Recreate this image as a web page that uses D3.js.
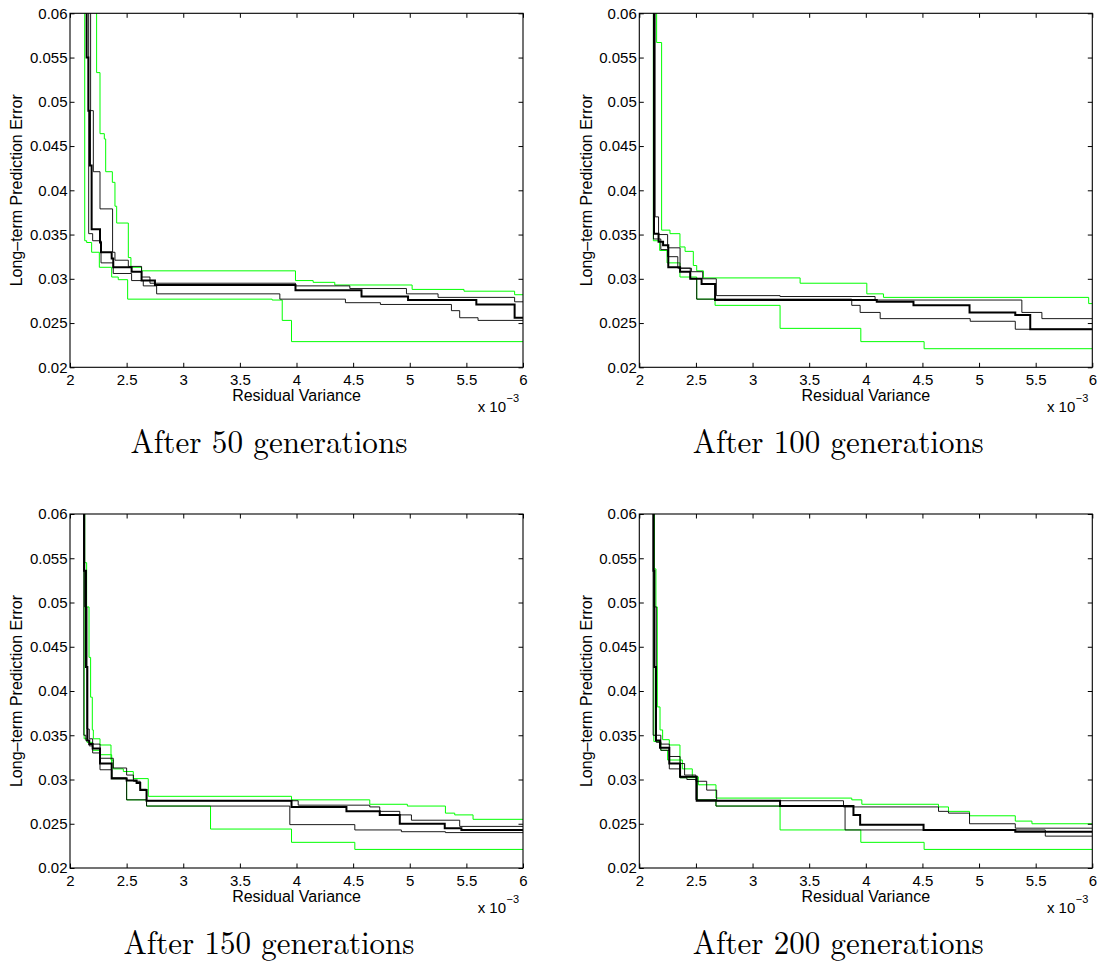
<!DOCTYPE html>
<html>
<head>
<meta charset="utf-8">
<script src="https://cdn.jsdelivr.net/npm/d3@7"></script>
<style>
  html, body { margin: 0; padding: 0; background: #fff; }
  svg { display: block; }
</style>
</head>
<body>
<svg id="chart" width="1101" height="965"></svg>
<script>
// x values are in units of 10^-3 (Residual Variance), y = Long-term Prediction Error
const xTicks = [2, 2.5, 3, 3.5, 4, 4.5, 5, 5.5, 6];
const yTicks = [0.02, 0.025, 0.03, 0.035, 0.04, 0.045, 0.05, 0.055, 0.06];
const panelTitles = ["After 50 generations", "After 100 generations", "After 150 generations", "After 200 generations"];

// ---- After 50 generations ----
const gen50GreenUpper = [[2.235,0.065],[2.235,0.0533],[2.265,0.0464],[2.303,0.0458],[2.315,0.0421],[2.374,0.0409],[2.397,0.0382],[2.412,0.0363],[2.515,0.0324],[2.538,0.0313],[2.632,0.0309],[3.991,0.0298],[4.147,0.0296],[4.338,0.0293],[5.021,0.0288],[5.479,0.0286],[5.926,0.0282],[6,0.0282]];
const gen50GreenLower = [[2.13,0.065],[2.13,0.0343],[2.147,0.0341],[2.191,0.0330],[2.259,0.0313],[2.368,0.0302],[2.426,0.0299],[2.509,0.0277],[3.785,0.0276],[3.874,0.0253],[3.956,0.0229],[6,0.0229]];
const gen50ThinUpper = [[2.182,0.065],[2.182,0.0490],[2.206,0.0421],[2.265,0.0379],[2.376,0.0330],[2.397,0.0321],[2.515,0.0314],[2.632,0.0302],[2.706,0.0295],[3.991,0.0292],[4.471,0.0289],[4.971,0.0283],[5.25,0.0279],[5.926,0.0274],[6,0.0274]];
const gen50ThinLower = [[2.165,0.065],[2.165,0.0351],[2.20,0.0343],[2.274,0.0318],[2.382,0.0306],[2.544,0.0298],[2.647,0.0292],[2.765,0.0283],[3.853,0.0277],[4.432,0.0273],[4.741,0.0271],[5.368,0.0264],[5.441,0.0256],[5.603,0.0253],[6,0.0253]];
const gen50Median = [[2.147,0.065],[2.147,0.0550],[2.162,0.0490],[2.176,0.0428],[2.191,0.0356],[2.265,0.0341],[2.274,0.0330],[2.368,0.0323],[2.382,0.0313],[2.544,0.0308],[2.632,0.0298],[2.75,0.0293],[3.991,0.0287],[4.574,0.0280],[4.985,0.0276],[5.588,0.0271],[5.926,0.0256],[6,0.0256]];

// ---- After 100 generations ----
const gen100GreenUpper = [[2.153,0.065],[2.153,0.0567],[2.197,0.0355],[2.271,0.0351],[2.359,0.0336],[2.404,0.0331],[2.477,0.0315],[2.507,0.0309],[2.566,0.0301],[3.42,0.0295],[4.009,0.0283],[4.156,0.0279],[5.968,0.0272],[6,0.0272]];
const gen100GreenLower = [[2.124,0.065],[2.124,0.0343],[2.18,0.0332],[2.245,0.0318],[2.359,0.0302],[2.507,0.0277],[2.669,0.0270],[3.243,0.0244],[3.956,0.0229],[4.515,0.0221],[6,0.0221]];
const gen100ThinUpper = [[2.14,0.065],[2.14,0.0370],[2.17,0.0350],[2.25,0.0335],[2.36,0.0312],[2.46,0.0308],[2.56,0.0300],[2.68,0.0281],[3.243,0.0280],[4.082,0.0276],[5.378,0.0262],[5.555,0.0255],[6,0.0255]];
const gen100ThinLower = [[2.125,0.065],[2.125,0.0345],[2.19,0.0333],[2.25,0.0325],[2.34,0.0312],[2.45,0.0300],[2.507,0.0277],[3.876,0.0270],[3.95,0.0262],[4.127,0.0255],[4.922,0.0252],[5.32,0.0243],[6,0.0243]];
const gen100Median = [[2.13,0.065],[2.13,0.0351],[2.17,0.0342],[2.21,0.0338],[2.256,0.0313],[2.36,0.0308],[2.45,0.0300],[2.55,0.0294],[2.669,0.0276],[4.097,0.0274],[4.421,0.0270],[4.916,0.0262],[5.32,0.0259],[5.452,0.0243],[6,0.0243]];

// ---- After 150 generations ----
const gen150GreenUpper = [[2.13,0.065],[2.13,0.0545],[2.147,0.0495],[2.168,0.0438],[2.182,0.0393],[2.197,0.0356],[2.206,0.0346],[2.265,0.0339],[2.362,0.0322],[2.382,0.0312],[2.471,0.0309],[2.559,0.0301],[2.691,0.0281],[3.956,0.0277],[4.647,0.0272],[4.979,0.0270],[5.315,0.0262],[5.397,0.0260],[5.559,0.0255],[6,0.0255]];
const gen150GreenLower = [[2.125,0.065],[2.125,0.0346],[2.15,0.0342],[2.2,0.0333],[2.265,0.0328],[2.368,0.0301],[2.5,0.0277],[2.676,0.0270],[3.241,0.0244],[3.956,0.0229],[4.515,0.0221],[6,0.0221]];
const gen150ThinUpper = [[2.13,0.065],[2.13,0.0495],[2.15,0.0357],[2.17,0.0346],[2.20,0.0340],[2.265,0.0324],[2.382,0.0313],[2.5,0.0305],[2.56,0.0298],[2.62,0.0289],[2.676,0.0276],[4.015,0.0271],[4.647,0.0269],[4.735,0.0264],[4.912,0.0260],[5.015,0.0254],[5.441,0.0247],[6,0.0247]];
const gen150ThinLower = [[2.122,0.065],[2.122,0.0350],[2.14,0.0344],[2.17,0.0338],[2.2,0.0330],[2.265,0.0311],[2.368,0.0302],[2.5,0.0277],[2.676,0.0270],[3.941,0.0249],[4.515,0.0243],[4.926,0.0241],[5.315,0.0240],[6,0.0240]];
const gen150Median = [[2.124,0.065],[2.124,0.0536],[2.141,0.0427],[2.153,0.0344],[2.17,0.0340],[2.20,0.0335],[2.265,0.0318],[2.368,0.0301],[2.5,0.0299],[2.588,0.0296],[2.62,0.0288],[2.676,0.0276],[3.956,0.0269],[4.441,0.0264],[4.735,0.0260],[4.912,0.0250],[5.309,0.0245],[5.456,0.0243],[6,0.0243]];

// ---- After 200 generations ----
const gen200GreenUpper = [[2.133,0.065],[2.133,0.0538],[2.147,0.0495],[2.159,0.0382],[2.183,0.0356],[2.206,0.0345],[2.265,0.0339],[2.359,0.0322],[2.38,0.0312],[2.468,0.0303],[2.521,0.0294],[2.677,0.0279],[3.876,0.0277],[3.965,0.0272],[4.642,0.0269],[4.73,0.0264],[4.916,0.0259],[5.32,0.0253],[5.467,0.0250],[6,0.0250]];
const gen200GreenLower = [[2.128,0.065],[2.128,0.0343],[2.19,0.0333],[2.25,0.0322],[2.36,0.0302],[2.51,0.0277],[2.677,0.0270],[3.243,0.0243],[3.956,0.0229],[4.515,0.0221],[6,0.0221]];
const gen200ThinUpper = [[2.13,0.065],[2.13,0.0495],[2.15,0.0350],[2.19,0.0340],[2.265,0.0326],[2.36,0.0318],[2.40,0.0305],[2.50,0.0298],[2.595,0.0288],[2.683,0.0276],[3.803,0.0269],[4.642,0.0264],[4.73,0.0262],[4.916,0.0250],[5.32,0.0245],[6,0.0245]];
const gen200ThinLower = [[2.122,0.065],[2.122,0.0350],[2.15,0.0342],[2.19,0.0333],[2.265,0.0312],[2.36,0.0302],[2.42,0.0300],[2.50,0.0277],[2.677,0.0270],[3.817,0.0243],[5.585,0.0236],[6,0.0236]];
const gen200Median = [[2.125,0.065],[2.125,0.0536],[2.133,0.0427],[2.147,0.0344],[2.183,0.0336],[2.265,0.0318],[2.36,0.0303],[2.507,0.0276],[3.243,0.0270],[3.891,0.0260],[3.95,0.0249],[4.51,0.0243],[5.32,0.0241],[6,0.0241]];

const panelSeries = [
  [gen50GreenUpper, gen50GreenLower, gen50ThinUpper, gen50ThinLower, gen50Median],
  [gen100GreenUpper, gen100GreenLower, gen100ThinUpper, gen100ThinLower, gen100Median],
  [gen150GreenUpper, gen150GreenLower, gen150ThinUpper, gen150ThinLower, gen150Median],
  [gen200GreenUpper, gen200GreenLower, gen200ThinUpper, gen200ThinLower, gen200Median]
];
const seriesKinds = ["green", "green", "thin", "thin", "thick"];

// ---- layout ----
const colLeft = [70, 639.3];
const rowTop = [13.3, 514];
const W = 453, H = 354;
const styles = {
  green: { stroke: "#00ff00", width: 1 },
  thin:  { stroke: "#000000", width: 0.9 },
  thick: { stroke: "#000000", width: 2 }
};
const sans = "'Liberation Sans', Arial, Helvetica, sans-serif";
const serif = "'Latin Modern Roman', 'CMU Serif', 'Liberation Serif', 'DejaVu Serif', serif";

const svg = d3.select("#chart");
svg.append("rect").attr("width", 1101).attr("height", 965).attr("fill", "#fff");

const x = d3.scaleLinear().domain([2, 6]).range([0, W]);
const y = d3.scaleLinear().domain([0.02, 0.06]).range([H, 0]);
const line = d3.line().x(d => x(d[0])).y(d => y(d[1])).curve(d3.curveStepAfter);

panelSeries.forEach((series, i) => {
  const col = i % 2, row = Math.floor(i / 2);
  const g = svg.append("g").attr("transform", `translate(${colLeft[col]},${rowTop[row]})`);
  const clipId = "clip" + i;
  g.append("clipPath").attr("id", clipId).append("rect").attr("width", W).attr("height", H);

  const lines = g.append("g").attr("clip-path", `url(#${clipId})`);
  // draw greens first, then thin black, then thick black
  const order = ["green", "thin", "thick"];
  order.forEach(kind => {
    series.forEach((s, j) => {
      if (seriesKinds[j] !== kind) return;
      lines.append("path")
        .attr("d", line(s))
        .attr("fill", "none")
        .attr("stroke", styles[kind].stroke)
        .attr("stroke-width", styles[kind].width)
        .attr("stroke-linejoin", "miter");
    });
  });

  // axes with inward ticks
  const tk = 4.5;
  const gb = g.append("g").attr("transform", `translate(0,${H})`)
    .call(d3.axisBottom(x).tickValues(xTicks).tickFormat(d => String(d)).tickSizeInner(-tk).tickSizeOuter(0).tickPadding(7));
  const gl = g.append("g")
    .call(d3.axisLeft(y).tickValues(yTicks).tickFormat(d => String(d)).tickSizeInner(-tk).tickSizeOuter(0).tickPadding(2.5));
  const gt = g.append("g")
    .call(d3.axisTop(x).tickValues(xTicks).tickFormat("").tickSizeInner(-tk).tickSizeOuter(0));
  const gr = g.append("g").attr("transform", `translate(${W},0)`)
    .call(d3.axisRight(y).tickValues(yTicks).tickFormat("").tickSizeInner(-tk).tickSizeOuter(0));
  [gb, gl, gt, gr].forEach(a => {
    a.select(".domain").remove();
    a.selectAll("text").attr("font-family", sans).attr("font-size", 15).attr("fill", "#000");
    a.selectAll("line").attr("stroke", "#000");
  });

  // box
  g.append("rect").attr("width", W).attr("height", H)
    .attr("fill", "none").attr("stroke", "#000").attr("stroke-width", 1.1);

  // axis labels
  g.append("text")
    .attr("x", W / 2).attr("y", H + 34)
    .attr("text-anchor", "middle")
    .attr("font-family", sans).attr("font-size", 16)
    .text("Residual Variance");
  g.append("text")
    .attr("transform", `translate(${-47.6},${H / 2}) rotate(-90)`)
    .attr("text-anchor", "middle")
    .attr("font-family", sans).attr("font-size", 16)
    .text("Long\u2013term Prediction Error");

  // x 10^-3 multiplier
  g.append("text")
    .attr("x", W - 17).attr("y", H + 45)
    .attr("text-anchor", "end")
    .attr("font-family", sans).attr("font-size", 15)
    .text("x 10");
  g.append("text")
    .attr("x", W - 16.5).attr("y", H + 34.5)
    .attr("text-anchor", "start")
    .attr("font-family", sans).attr("font-size", 11)
    .text("\u22123");

  // subfigure caption
  g.append("text")
    .attr("x", W / 2 - 27.5).attr("y", H + 86)
    .attr("text-anchor", "middle")
    .attr("font-family", serif).attr("font-size", 33)
    .attr("textLength", i === 0 ? 277 : 291).attr("lengthAdjust", "spacingAndGlyphs")
    .text(panelTitles[i]);
});
</script>
</body>
</html>
